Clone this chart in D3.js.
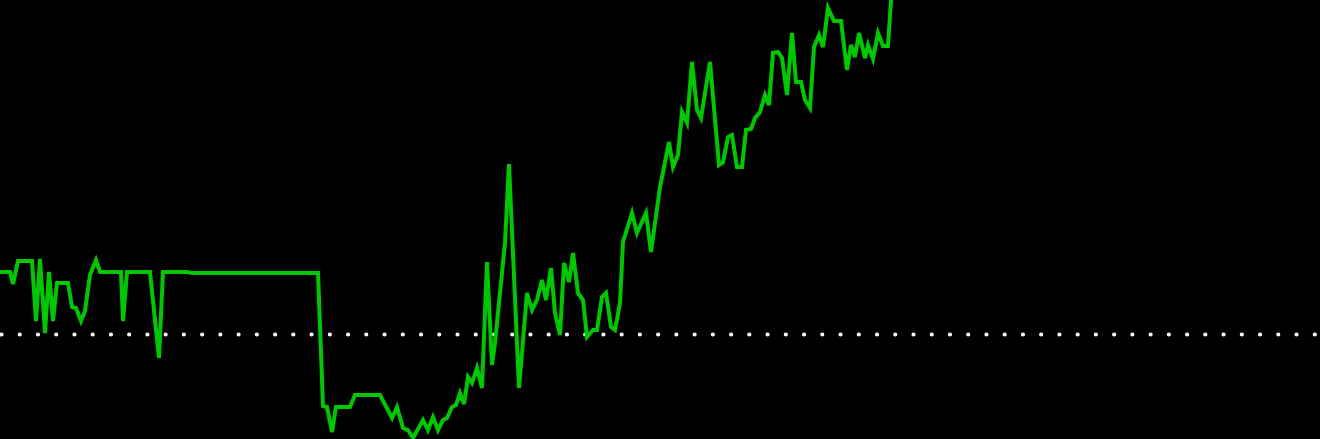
<!DOCTYPE html>
<html>
<head>
<meta charset="utf-8">
<script src="https://cdn.jsdelivr.net/npm/d3@7"></script>
<style>
  html, body { margin: 0; padding: 0; background: #000; overflow: hidden; }
  svg { display: block; }
</style>
</head>
<body>
<svg width="1320" height="439"></svg>
<script>
// time steps and values
const times = [
  0, 2.5, 3.25, 4.5, 8, 9, 10, 11.25, 12.25, 13.25, 14.25, 17, 18, 19, 20.25, 21.25, 22.5, 24, 25,
  30.25, 30.75, 31.75, 37.5, 39.75, 40.75, 46.75, 48, 79.5, 80.75, 81.75, 83, 84, 87.5, 88.75, 95,
  98, 99.25, 100.75, 102, 103.25, 105.75, 107, 108.25, 109.5, 110.75, 111.75, 113, 114, 115, 116,
  117, 118, 119.25, 120.5, 121.75, 123, 123.75, 126.25, 127.25, 129.75, 131.75, 133, 134.25, 135.5,
  136.5, 137.75, 138.75, 140, 141, 142.25, 143.25, 144.5, 145.75, 146.75, 148.25, 149.25, 150.5,
  151.5, 152.75, 153.75, 155, 155.75, 158, 159.25, 161.5, 162.75, 165, 167.25, 168.25, 169.5, 170.5,
  171.75, 173, 174.25, 175.25, 177.5, 179.75, 180.75, 182, 183, 184.25, 185.5, 186.5, 187.75, 188.75,
  190, 191.25, 192.25, 193.25, 194.5, 195.5, 196.75, 198, 199, 200.25, 201.25, 202.5, 203.5, 204.75,
  205.75, 207, 208.5, 210.25, 211.75, 212.75, 213.75, 214.75, 216.25, 217, 218.25, 219.5, 220.75,
  222, 223.25
];
const values = [
  31.25, 31.25, 25.25, 36.75, 36.75, 6.75, 37.75, 0.75, 31.25, 6.75, 25.75, 25.75, 13.75, 13.25, 6.75,
  11.75, 29.75, 37.25, 31.25, 31.25, 6.75, 31.25, 31.25, -11.75, 31.25, 31.25, 30.75, 30.75, -35.75,
  -36.25, -48.75, -36.25, -36.25, -30.25, -30.25, -41.75, -36.25, -46.75, -47.75, -51.75, -42.75,
  -47.75, -41.25, -47.75, -42.75, -41.75, -36.25, -35.25, -29.25, -34.75, -21.25, -24.25, -16.75,
  -26.75, 36.25, -15.25, -4.25, 45.75, 85.25, -26.75, 20.75, 12.25, 17.25, 27.25, 17.25, 33.25,
  10.75, -0.25, 35.75, 26.25, 40.75, 20.75, 17.25, -1.25, 2.25, 2.25, 18.75, 20.75, 3.75, 2.25,
  15.75, 46.25, 60.75, 50.75, 60.75, 41.25, 73.75, 96.25, 83.75, 89.75, 111.25, 105.75, 136.25,
  112.25, 108.25, 136.25, 84.75, 86.25, 98.75, 99.75, 83.75, 83.75, 102.25, 102.75, 108.25, 111.25,
  119.75, 114.75, 140.75, 141.25, 138.25, 119.75, 150.75, 126.25, 126.25, 117.25, 113.25, 143.75,
  149.75, 143.75, 163.25, 156.75, 156.75, 132.25, 144.75, 138.75, 150.75, 138.25, 144.75, 137.75,
  150.75, 144.25, 144.25, 182.25
];
const baseline = 0;

const data = times.map((t, i) => ({t: t, v: values[i]}));

const svg = d3.select('svg');
const width = +svg.attr('width');
const height = +svg.attr('height');

svg.append('rect')
  .attr('width', width)
  .attr('height', height)
  .attr('fill', '#000');

const x = d3.scaleLinear()
  .domain([0, 330])
  .range([0, width]);

const y = d3.scaleLinear()
  .domain([-52.25, 167.25])
  .range([height, 0]);

// dotted reference line
svg.append('line')
  .attr('x1', 1.5)
  .attr('x2', width)
  .attr('y1', y(baseline))
  .attr('y2', y(baseline))
  .attr('stroke', '#fff')
  .attr('stroke-width', 4.2)
  .attr('stroke-linecap', 'round')
  .attr('stroke-dasharray', '0 18.24');

const line = d3.line()
  .x(d => x(d.t))
  .y(d => y(d.v));

svg.append('path')
  .datum(data)
  .attr('d', line)
  .attr('fill', 'none')
  .attr('stroke', '#00c800')
  .attr('stroke-width', 4)
  .attr('stroke-linejoin', 'miter');
</script>
</body>
</html>
